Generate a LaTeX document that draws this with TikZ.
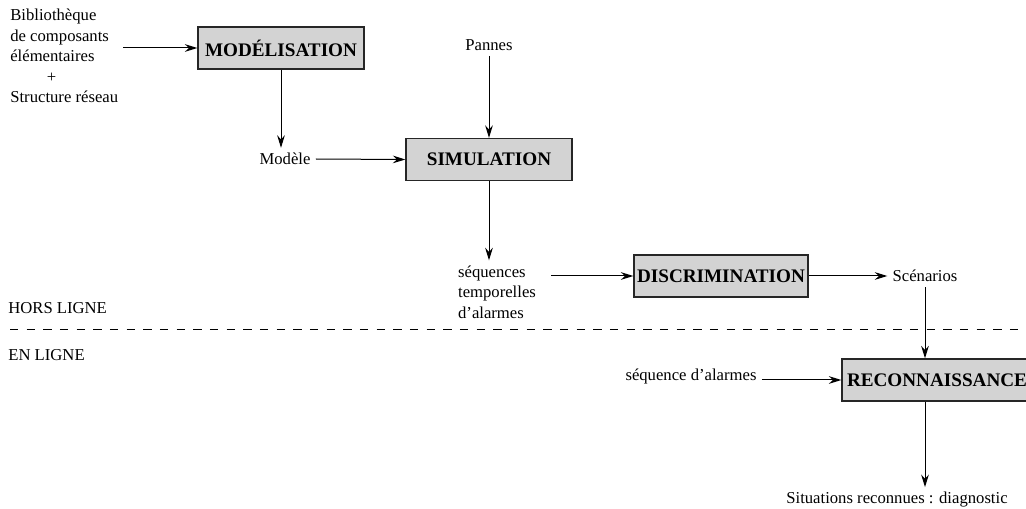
\documentclass[tikz,border=0pt]{standalone}
\usepackage{fontspec}
\setmainfont{Liberation Serif}
\usetikzlibrary{arrows.meta}
\usetikzlibrary{positioning}
\definecolor{boxgray}{RGB}{211,211,211}

\begin{document}
\begin{tikzpicture}[x=0.6pt,y=-0.6pt]
  \tikzset{stage/.style={minimum width=#1,minimum height=25.2pt,fill=boxgray,draw=black!85,line width=0.8pt,
             inner sep=0pt,font=\fontsize{11.5}{13}\selectfont\bfseries},
           note/.style={inner sep=3pt,font=\fontsize{10}{12.3}\selectfont},
           feeds/.style={-{Stealth[length=7.5pt,width=4.6pt,inset=2.5pt]},line width=0.6pt}}
  \useasboundingbox (0,0) rectangle (1026,509);

  \node[stage=99.6pt] (modeling) at (281,48) {MODÉLISATION};
  \node[stage=99.6pt] (simulation) at (489,159.5) {SIMULATION};
  \node[stage=104.4pt] (discrim) at (721,276) {DISCRIMINATION};
  \node[stage=114pt] (recog) at (937,380) {RECONNAISSANCE};

  \node[note,align=left,anchor=west] (library) at (5,56)
    {Bibliothèque\\de composants\\élémentaires\\\hspace*{2.2em}+\\Structure réseau};
  \node[note] (model) at (285,159) {Modèle};
  \node[note] (faults) at (489,45) {Pannes};
  \node[note,align=left] (seqs) at (497,292) {séquences\\temporelles\\d'alarmes};
  \node[note] (scenarios) at (925,276) {Scénarios};
  \node[note,anchor=west] (offline) at (3,308) {HORS LIGNE};
  \node[note,anchor=west] (online) at (3,355) {EN LIGNE};
  \node[note] (alarms) at (691,376) {séquence d'alarmes};
  \node[note] (situations) at (897,500) {Situations reconnues : diagnostic};

  \draw[feeds] (modeling.west -| library.east) -- (modeling.west);
  \draw[feeds] (modeling.south) -- (modeling.south |- model.north);
  \draw[feeds] (model.east) -- (simulation.west);
  \draw[feeds] (faults.south) -- (simulation.north);
  \draw[feeds] (simulation.south) -- (simulation.south |- seqs.north);
  \draw[feeds,shorten <=6pt] (discrim.west -| seqs.east) -- (discrim.west);
  \draw[feeds] (discrim.east) -- (scenarios.west);
  \draw[feeds] (scenarios.south) -- (scenarios.south |- recog.north);
  \draw[feeds] (recog.west -| alarms.east) -- (recog.west);
  \draw[feeds] (recog.south -| scenarios.south) -- (situations.north -| scenarios.south);

  % frontiere hors ligne / en ligne
  \draw[line width=0.6pt,dash pattern=on 5pt off 5pt] (10,330) -- (1026,330);
\end{tikzpicture}
\end{document}
